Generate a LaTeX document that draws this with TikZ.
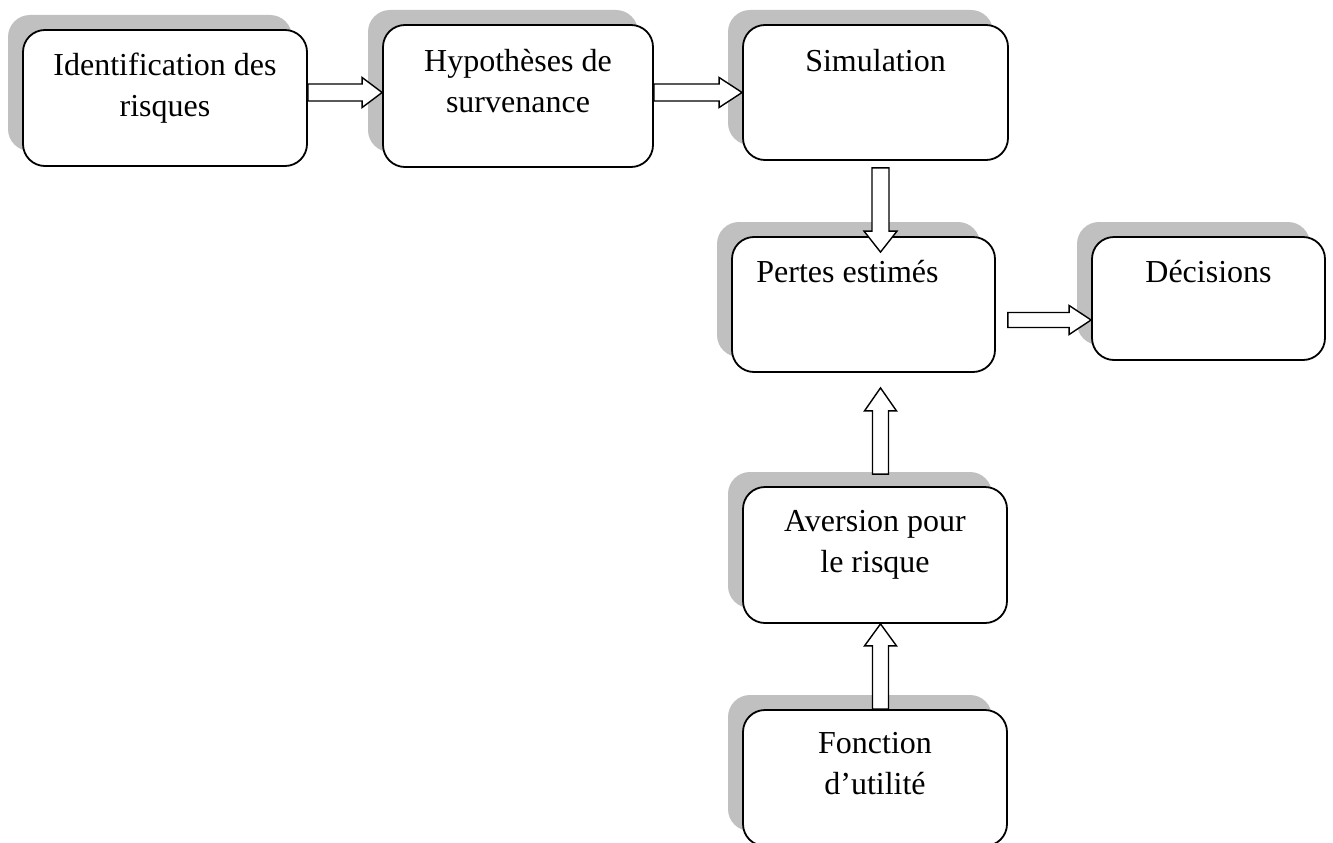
\documentclass[tikz,border=0pt]{standalone}
\usepackage{fontspec}
\setmainfont{Liberation Serif}
\usetikzlibrary{calc,shadows}
\definecolor{shadowgray}{HTML}{C0C0C0}
\newcommand\blockarrowh[5]{%
  \draw[blockarrow] ($(#1)+(0,-#4)$) -- ($(#2)+(-#3,-#4)$) -- ($(#2)+(-#3,-#5)$) -- (#2)
    -- ($(#2)+(-#3,#5)$) -- ($(#2)+(-#3,#4)$) -- ($(#1)+(0,#4)$) -- cycle;}
\newcommand\blockarrowv[5]{%
  \draw[blockarrow] ($(#1)+(-#4,0)$) -- ($(#2)+(-#4,#3)$) -- ($(#2)+(-#5,#3)$) -- (#2)
    -- ($(#2)+(#5,#3)$) -- ($(#2)+(#4,#3)$) -- ($(#1)+(#4,0)$) -- cycle;}
\begin{document}
\begin{tikzpicture}[x=1pt,y=-1pt,
  box/.style={draw=black, line width=1.8pt, rounded corners=22pt, fill=white,
    inner sep=0pt,
    drop shadow={shadow xshift=-15pt, shadow yshift=15pt, fill=shadowgray, opacity=1}},
  txt/.style={font=\fontsize{32}{41}\selectfont, align=center, inner sep=0pt, anchor=north},
  blockarrow/.style={draw=black, line width=1.4pt, fill=white, line join=miter}]
\useasboundingbox (0,0) rectangle (1333,843);
\clip (0,0) rectangle (1333,843);
% boxes
\node[box, minimum width=284pt, minimum height=136pt] (ident) at (165,98) {};
\node[box, minimum width=270pt, minimum height=142pt] (hyp) at (518,96) {};
\node[box, minimum width=265pt, minimum height=135pt] (sim) at (875.5,92.5) {};
\node[box, minimum width=263pt, minimum height=135pt] (pertes) at (863.5,304.5) {};
\node[box, minimum width=233pt, minimum height=123pt] (dec) at (1208.5,298.5) {};
\node[box, minimum width=264pt, minimum height=136pt] (aver) at (875,555) {};
\node[box, minimum width=264pt, minimum height=136pt] (fonc) at (875,778) {};
% texts
\node[txt] (identtxt) at ($(ident.north)+(0,24)$) {Identification des\\risques};
\node[txt] (hyptxt) at ($(hyp.north)+(0,25)$) {Hypothèses de\\survenance};
\node[txt] (simtxt) at ($(sim.north)+(0,25)$) {Simulation};
\node[txt] (pertestxt) at ($(pertes.north)+(-16,24)$) {Pertes estimés};
\node[txt] (dectxt) at ($(dec.north)+(0,24)$) {Décisions};
\node[txt] (avertxt) at ($(aver.north)+(0,24)$) {Aversion pour\\le risque};
\node[txt] (fonctxt) at ($(fonc.north)+(0,23)$) {Fonction\\d’utilité};
% arrows
\coordinate (a1s) at ($(ident.east)+(0,-5.5)$);
\coordinate (a1t) at ($(hyp.west)+(0,-3.5)$);
\blockarrowh{a1s}{a1t}{20}{8.5}{15}
\coordinate (a2s) at ($(hyp.east)+(0,-3.5)$);
\coordinate (a2t) at (sim.west);
\blockarrowh{a2s}{a2t}{23}{8.5}{15}
\coordinate (a3s) at ($(sim.south)+(5,7)$);
\coordinate (a3t) at ($(pertes.north)+(17,16)$);
\blockarrowv{a3s}{a3t}{-21}{8.5}{16.5}
\coordinate (a4s) at ($(pertes.east)+(12,15.5)$);
\coordinate (a4t) at ($(dec.west)+(0,21.5)$);
\blockarrowh{a4s}{a4t}{22}{7.5}{14.5}
\coordinate (a5s) at ($(aver.north)+(5.5,-12)$);
\coordinate (a5t) at ($(pertes.south)+(17,15)$);
\blockarrowv{a5s}{a5t}{23}{8}{16}
\coordinate (a6s) at ($(fonc.north)+(5.5,0)$);
\coordinate (a6t) at ($(aver.south)+(5.5,0)$);
\blockarrowv{a6s}{a6t}{22}{8}{16}
\end{tikzpicture}
\end{document}
